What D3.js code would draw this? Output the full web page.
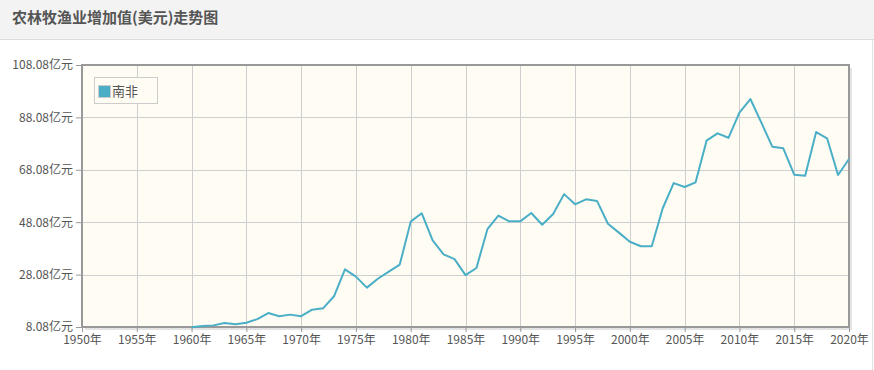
<!DOCTYPE html>
<html><head><meta charset="utf-8">
<script src="https://cdn.jsdelivr.net/npm/d3@7"></script>
<style>
html,body{margin:0;padding:0;background:#fff;}
svg{display:block;font-family:"Microsoft YaHei","Noto Sans CJK SC",sans-serif;}
</style></head>
<body>
<svg id="c" width="874" height="370"></svg>
<script>
const title = "农林牧渔业增加值(美元)走势图";
const seriesName = "南非";
const years = d3.range(1960, 2021);
const values = [8.0,8.5,8.7,9.6,9.1,9.7,11.1,13.4,12.2,12.8,
  12.2,14.7,15.2,19.8,30.1,27.3,23.1,26.5,29.2,31.9,
  48.3,51.5,41.1,35.8,34.0,27.9,30.6,45.4,50.6,48.4,
  48.4,51.6,47.1,51.2,58.8,54.9,56.8,56.2,47.5,44.1,
  40.6,38.9,38.9,53.4,63.0,61.5,63.3,79.2,82.0,80.3,
  89.9,95.1,86.1,76.9,76.3,66.2,65.8,82.5,80.1,66.1,72.2];
const yTicks = [8.08,28.08,48.08,68.08,88.08,108.08];
const xTicks = [1950,1955,1960,1965,1970,1975,1980,1985,1990,1995,2000,2005,2010,2015,2020];

const svg = d3.select("#c");
// title bar
svg.append("rect").attr("x",0).attr("y",0).attr("width",874).attr("height",39).attr("fill","#f3f3f3");
svg.append("line").attr("x1",0).attr("x2",874).attr("y1",39.5).attr("y2",39.5).attr("stroke","#dcdcdc");
svg.append("line").attr("x1",872.5).attr("x2",872.5).attr("y1",40).attr("y2",370).attr("stroke","#e2e2e2");
svg.append("text").attr("x",12).attr("y",23).attr("font-size",15).attr("font-weight","bold")
  .attr("fill","#555").text(title);

const L=82,R=849,T=65,B=327;
const x = d3.scaleLinear().domain([1950,2020]).range([L,R]);
const y = d3.scaleLinear().domain([8.08,108.08]).range([B,T]);

// shadow
svg.append("rect").attr("x",L+3).attr("y",T+3).attr("width",R-L).attr("height",B-T).attr("fill","#e4e4e4");
svg.append("rect").attr("x",L).attr("y",T).attr("width",R-L).attr("height",B-T).attr("fill","#fffcf4");

// grid
const g = svg.append("g");
g.selectAll("line.h").data(yTicks).join("line").attr("x1",L).attr("x2",R)
  .attr("y1",d=>Math.round(y(d))+0.5).attr("y2",d=>Math.round(y(d))+0.5).attr("stroke","#cfcfcf");
g.selectAll("line.v").data(xTicks).join("line").attr("y1",T).attr("y2",B)
  .attr("x1",d=>Math.round(x(d))+0.5).attr("x2",d=>Math.round(x(d))+0.5).attr("stroke","#cfcfcf");

// axes
const ya = svg.append("g").attr("transform",`translate(${L},0)`)
  .call(d3.axisLeft(y).tickValues(yTicks).tickFormat(d=>d.toFixed(2)+"亿元").tickSize(6).tickPadding(3));
const xa = svg.append("g").attr("transform",`translate(0,${B})`)
  .call(d3.axisBottom(x).tickValues(xTicks).tickFormat(d=>d+"年").tickSize(5).tickPadding(3));
[ya,xa].forEach(a=>{
  a.select(".domain").remove();
  a.selectAll(".tick line").attr("stroke","#999");
  a.selectAll(".tick text").attr("fill","#555").attr("font-size",12)
    .attr("font-family","Microsoft YaHei, Noto Sans CJK SC, sans-serif");
});

// border
svg.append("rect").attr("x",L).attr("y",T).attr("width",R-L).attr("height",B-T)
  .attr("fill","none").attr("stroke","#999").attr("stroke-width",2);

// line
const line = d3.line().x((d,i)=>x(years[i])).y(d=>y(d));
svg.append("path").datum(values).attr("d",line).attr("fill","none")
  .attr("stroke","#4aafc6").attr("stroke-width",2).attr("stroke-linejoin","round");

// legend
const lg = svg.append("g");
lg.append("rect").attr("x",94.5).attr("y",77.5).attr("width",63).attr("height",26)
  .attr("fill","#fffcf4").attr("stroke","#cccccc");
lg.append("rect").attr("x",98.5).attr("y",85.5).attr("width",12).attr("height",12)
  .attr("fill","#4aafc6").attr("stroke","#ccc");
lg.append("text").attr("x",112).attr("y",96).attr("font-size",13).attr("fill","#555").text(seriesName);
</script>
</body></html>
